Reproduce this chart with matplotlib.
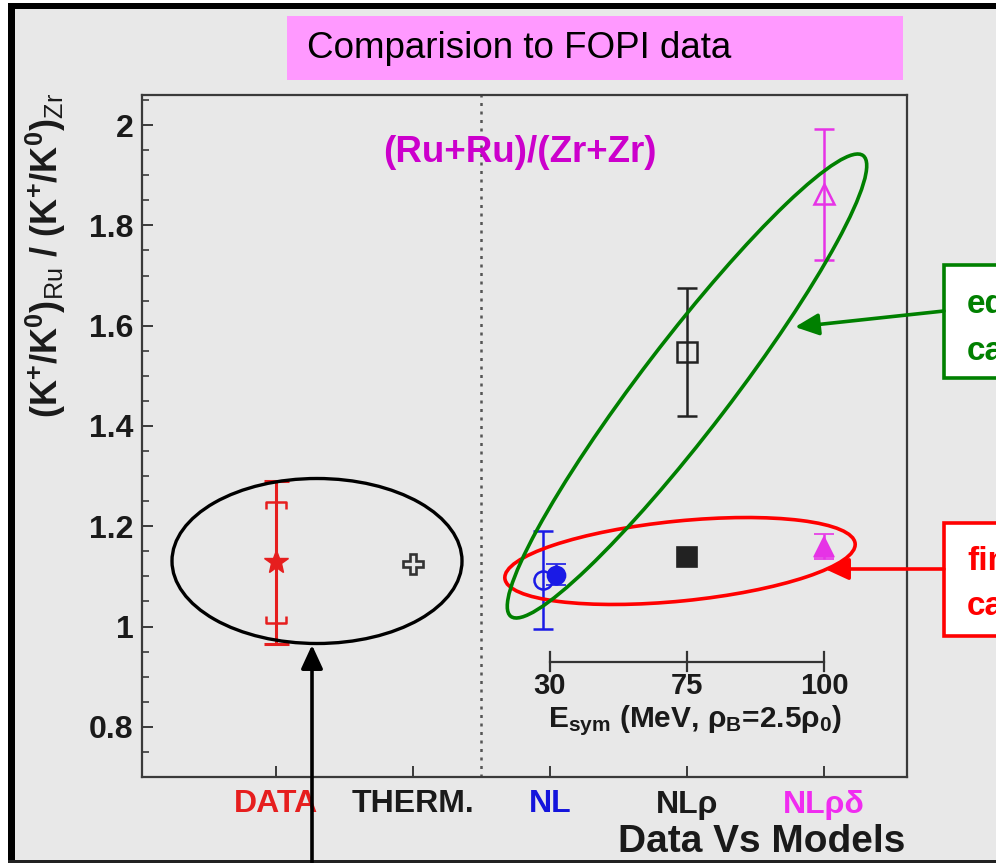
import matplotlib
matplotlib.use('Agg')
import matplotlib.pyplot as plt
from matplotlib.patches import Ellipse, Rectangle, FancyArrowPatch
from matplotlib.path import Path
from matplotlib.transforms import Affine2D
import matplotlib.ticker as mticker

# ---------------- data ----------------
categories = ['DATA', 'THERM.', 'NL', 'NLρ', 'NLρδ']
category_colors = ['#e61e1e', '#1a1a1a', '#1414dc', '#1a1a1a', '#f02cf0']

data_value = 1.128
data_stat_err = 0.162
data_syst_err = 0.120

therm_value = 1.125

esym_labels = ['30', '75', '100']
model_names = ['NL', 'NLρ', 'NLρδ']
model_colors = ['#1a1ae6', '#222222', '#e633e6']
model_markers = ['o', 's', '^']

equilibrium_values = [1.093, 1.547, 1.862]
equilibrium_errors = [0.097, 0.128, 0.131]

finite_values = [1.103, 1.139, 1.159]
finite_errors = [0.021, 0.010, 0.025]

# ---------------- figure ----------------
W, H = 996, 863
plt.rcParams['font.family'] = ['Liberation Sans', 'DejaVu Sans']
plt.rcParams['mathtext.fontset'] = 'custom'
plt.rcParams['mathtext.rm'] = 'Liberation Sans'
plt.rcParams['mathtext.bf'] = 'Liberation Sans:bold'
plt.rcParams['mathtext.it'] = 'Liberation Sans:italic'

BG = '#e8e8e8'
fig = plt.figure(figsize=(W / 100, H / 100), dpi=100, facecolor='white')

# pixel (top-left origin) helper transform
PX = Affine2D().scale(1.0 / W, -1.0 / H).translate(0, 1) + fig.transFigure

# gray slide background and black frame
fig.add_artist(Rectangle((8, 3), W, H, transform=PX, fc=BG, ec='none', zorder=0))
fig.add_artist(Rectangle((8, 3), W, 6, transform=PX, fc='black', ec='none', zorder=1))
fig.add_artist(Rectangle((8, 3), 7, H, transform=PX, fc='black', ec='none', zorder=1))
fig.add_artist(Rectangle((8, 860), W, 3, transform=PX, fc='#222222', ec='none', zorder=1))

ax = fig.add_axes([142 / W, 1 - 777 / H, (907 - 142) / W, (777 - 95) / H])
ax.set_facecolor(BG)
ax.set_xlim(0.022, 5.606)
ax.set_ylim(0.70, 2.06)

for s in ax.spines.values():
    s.set_color('#3a3a3a')
    s.set_linewidth(1.6)

x_pos = list(range(1, len(categories) + 1))
ax.yaxis.set_major_locator(mticker.MultipleLocator(0.2))
ax.yaxis.set_minor_locator(mticker.MultipleLocator(0.05))
ax.yaxis.set_major_formatter(mticker.FuncFormatter(lambda v, p: f'{v:g}'))
ax.tick_params(axis='y', which='major', direction='in', length=8, width=1.4,
               labelsize=23, pad=6, color='#3a3a3a', labelcolor='#1a1a1a')
ax.tick_params(axis='y', which='minor', direction='in', length=5, width=1.2, color='#3a3a3a')
ax.tick_params(axis='x', which='major', direction='in', length=8, width=1.4, pad=9,
               color='#3a3a3a')
ax.set_xticks(x_pos)
ax.set_xticklabels(categories, fontsize=23, fontweight='bold')
for lab, c in zip(ax.get_xticklabels(), category_colors):
    lab.set_color(c)
for lab in ax.get_yticklabels():
    lab.set_fontweight('bold')

# separator between data and models
ax.axvline(2.5, color='#555555', lw=1.8, ls=(0, (1.2, 2.2)), zorder=1)

# DATA point: stat error + systematic brackets
ax.errorbar([x_pos[0]], [data_value], yerr=[data_stat_err], fmt='none',
            ecolor='#e61e1e', elinewidth=2.2, capsize=9, capthick=2.2, zorder=3)
top_bracket = Path([(-1, -0.7), (-1, 0), (1, 0), (1, -0.7)],
                   [Path.MOVETO, Path.LINETO, Path.LINETO, Path.LINETO])
bot_bracket = Path([(-1, 0.7), (-1, 0), (1, 0), (1, 0.7)],
                   [Path.MOVETO, Path.LINETO, Path.LINETO, Path.LINETO])
ax.plot([x_pos[0]], [data_value + data_syst_err], marker=top_bracket, ms=14,
        mfc='none', mec='#e61e1e', mew=1.8, ls='none', zorder=3)
ax.plot([x_pos[0]], [data_value - data_syst_err], marker=bot_bracket, ms=14,
        mfc='none', mec='#e61e1e', mew=1.8, ls='none', zorder=3)
ax.plot([x_pos[0]], [data_value], marker='*', ms=18, color='#e61e1e',
        mec='#e61e1e', ls='none', zorder=4)

# thermal model
ax.plot([x_pos[1]], [therm_value], marker='P', ms=15, mfc='none', mec='#333333',
        mew=1.9, ls='none', zorder=4)

# models: equilibrium (open) and finite nuclei (filled)
offsets = [-0.05, 0.0, 0.0]
offsets_f = [0.045, 0.0, 0.0]
model_x = x_pos[2:]
for i, (xm, c, m) in enumerate(zip(model_x, model_colors, model_markers)):
    ms = 13 if m == 'o' else 15
    ax.errorbar([xm + offsets[i]], [equilibrium_values[i]], yerr=[equilibrium_errors[i]],
                fmt=m, ms=ms, mfc='none', mec=c, mew=1.8, ecolor=c,
                elinewidth=1.8, capsize=7, capthick=1.8, zorder=3)
    ax.errorbar([xm + offsets_f[i]], [finite_values[i]], yerr=[finite_errors[i]],
                fmt=m, ms=ms, mfc=c, mec=c, mew=1.2, ecolor=c,
                elinewidth=1.8, capsize=7, capthick=1.8, zorder=4)

# E_sym inset axis
ax.plot([model_x[0], model_x[-1]], [0.93, 0.93], color='#333333', lw=1.6, zorder=2)
for xm, lab in zip(model_x, esym_labels):
    ax.plot([xm, xm], [0.912, 0.950], color='#333333', lw=1.6, zorder=2)
    ax.text(xm, 0.882, lab, ha='center', va='center', fontsize=21,
            fontweight='bold', color='#1a1a1a')
ax.text(4.06, 0.812, r'E$_{\mathbf{sym}}$ (MeV, ρ$_{\mathbf{B}}$=2.5ρ$_{\mathbf{0}}$)',
        ha='center', va='center', fontsize=21.5, fontweight='bold', color='#1a1a1a')

ax.text(2.777, 1.926, '(Ru+Ru)/(Zr+Zr)', ha='center', va='baseline', fontsize=26.5,
        fontweight='bold', color='#cc00cc')

# axis titles
fig.text(905 / W, 1 - 852 / H, 'Data Vs Models', ha='right', va='baseline',
         fontsize=28, fontweight='bold', color='#1a1a1a')
fig.text(46 / W, 1 - 255 / H,
         r'(K$^{\mathbf{+}}$/K$^{\mathbf{0}}$)$_{\mathrm{Ru}}$ / (K$^{\mathbf{+}}$/K$^{\mathbf{0}}$)$_{\mathrm{Zr}}$',
         rotation=90, ha='center', va='center', fontsize=26, fontweight='bold',
         color='#1a1a1a')

# title box
fig.add_artist(Rectangle((287, 16), 616, 64, transform=PX, fc='#ff99ff', ec='none', zorder=2))
fig.text(307 / W, 1 - 48 / H, 'Comparision to FOPI data', ha='left', va='center',
         fontsize=26.5, color='black', zorder=3)

# ellipses (annotations)
fig.add_artist(Ellipse((317, 561), 290, 165, angle=0, transform=PX, fill=False,
                       ec='black', lw=2.4, zorder=5))
fig.add_artist(Ellipse((680, 561), 352, 80, angle=-5.7, transform=PX, fill=False,
                       ec='#ff0000', lw=2.6, zorder=5))
fig.add_artist(Ellipse((687, 386), 580, 90, angle=-52.6, transform=PX, fill=False,
                       ec='#008000', lw=2.6, zorder=5))

# callout boxes (cut by the slide edge, as in the reference)
fig.add_artist(Rectangle((944, 265), 80, 113, transform=PX, fc='white', ec='#008000',
                         lw=2.6, zorder=6))
fig.text(967 / W, 1 - 313 / H, 'eq.', ha='left', va='baseline', fontsize=24,
         fontweight='bold', color='#008000', zorder=7)
fig.text(967 / W, 1 - 360 / H, 'calc.', ha='left', va='baseline', fontsize=24,
         fontweight='bold', color='#008000', zorder=7)
fig.add_artist(Rectangle((944, 523), 80, 113, transform=PX, fc='white', ec='#ff0000',
                         lw=2.6, zorder=6))
fig.text(967 / W, 1 - 570 / H, 'fin.', ha='left', va='baseline', fontsize=24,
         fontweight='bold', color='#ff0000', zorder=7)
fig.text(967 / W, 1 - 615 / H, 'calc.', ha='left', va='baseline', fontsize=24,
         fontweight='bold', color='#ff0000', zorder=7)

# arrows
def arrow(p0, p1, color):
    fig.add_artist(FancyArrowPatch(p0, p1, transform=PX,
                                   arrowstyle='-|>,head_length=1.3,head_width=0.6',
                                   mutation_scale=11, color=color, lw=2.6,
                                   shrinkA=0, shrinkB=0, zorder=6))

arrow((312, 870), (312, 645), 'black')
arrow((944, 311), (795, 327), '#008000')
arrow((944, 569), (825, 569), '#ff0000')

fig.savefig('out.png', dpi=100, facecolor='white')
